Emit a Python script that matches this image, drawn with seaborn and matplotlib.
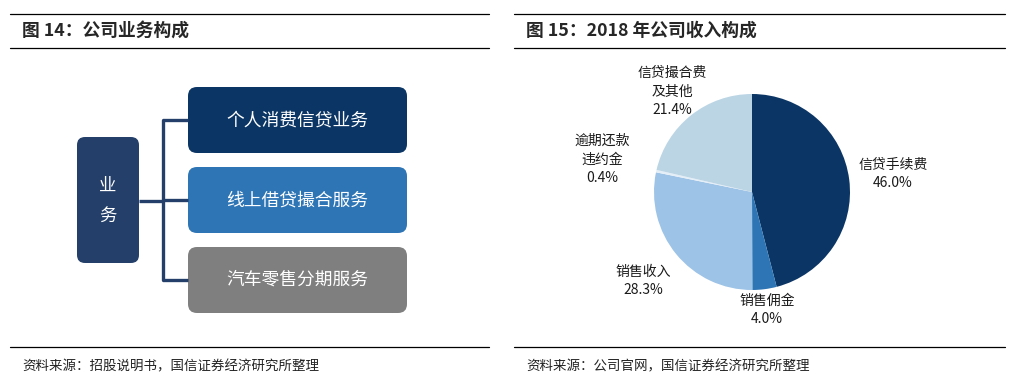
import numpy as np
import matplotlib
matplotlib.use("Agg")
import matplotlib.pyplot as plt
import seaborn as sns
from matplotlib.patches import FancyBboxPatch

sns.set_theme(style="white")
plt.rcParams['font.family'] = ['Noto Sans CJK SC', 'DejaVu Sans']

# Left panel: business structure
root_label = "业\n务"
business = ["个人消费信贷业务", "线上借贷撮合服务", "汽车零售分期服务"]
business_colors = ["#0B3564", "#2E75B6", "#7F7F7F"]

# Right panel: 2018 revenue mix
rev_names = ["信贷手续费", "销售佣金", "销售收入", "逾期还款\n违约金", "信贷撮合费\n及其他"]
rev_share = [46.0, 4.0, 28.3, 0.4, 21.4]
rev_colors = ["#0B3564", "#2E75B6", "#9DC3E6", "#E4EEF7", "#BBD5E5"]
label_r = [1.45, 1.21, 1.43, 1.56, 1.31]

titles = ["图 14：公司业务构成", "图 15：2018 年公司收入构成"]
sources = ["资料来源：招股说明书，国信证券经济研究所整理", "资料来源：公司官网，国信证券经济研究所整理"]

fig = plt.figure(figsize=(10.19, 3.80), dpi=100)
bg = fig.add_axes([0, 0, 1, 1])
bg.set_xlim(0, 1019)
bg.set_ylim(380, 0)
bg.axis("off")

# header / footer rules and texts
for i, (x0, x1) in enumerate([(10, 489), (514, 1005)]):
    for y in (14, 48, 347):
        bg.plot([x0, x1], [y, y], color="black", lw=0.9)
    bg.text(x0 + 12, 31, titles[i], fontsize=12.8, fontweight="bold", va="center", ha="left")
    bg.text(x0 + 12, 366, sources[i], fontsize=9.7, va="center", ha="left", color="#222222")

# business diagram
navy = "#24406A"
root = FancyBboxPatch((77, 137), 62, 126, boxstyle="round,pad=0,rounding_size=8",
                      fc=navy, ec="none")
bg.add_patch(root)
bg.text(108, 201, root_label, color="white", fontsize=12.5, ha="center", va="center",
        linespacing=1.9)

box_y = [87 + i * 80 for i in range(len(business))]
mid_y = [y + 33 for y in box_y]
bg.plot([139, 163], [201, 201], color=navy, lw=2.4, solid_capstyle="butt")
bg.plot([163, 163], [mid_y[0], mid_y[-1]], color=navy, lw=2.4)
for name, col, y, my in zip(business, business_colors, box_y, mid_y):
    bg.plot([163, 188], [my, my], color=navy, lw=2.4, solid_capstyle="butt")
    box = FancyBboxPatch((188, y), 219, 66, boxstyle="round,pad=0,rounding_size=9",
                         fc=col, ec="none")
    bg.add_patch(box)
    bg.text(297, my, name, color="white", fontsize=12.8, ha="center", va="center")

# pie chart
cx, cy, rad, half = 752, 188, 98, 150
ax = fig.add_axes([(cx - half) / 1019, (cy - half) / 380, 2 * half / 1019, 2 * half / 380])
wedges, _ = ax.pie(rev_share, colors=rev_colors, startangle=90, counterclock=False,
                   radius=1, wedgeprops=dict(linewidth=0))
lim = half / rad
ax.set_xlim(-lim, lim)
ax.set_ylim(-lim, lim)
ax.axis("off")
for w, name, val, r in zip(wedges, rev_names, rev_share, label_r):
    ang = np.deg2rad((w.theta1 + w.theta2) / 2)
    ax.text(r * np.cos(ang), r * np.sin(ang), f"{name}\n{val:.1f}%", fontsize=10,
            ha="center", va="center", linespacing=1.4, color="#1a1a1a")

fig.savefig("out.png", dpi=100, facecolor="white")
